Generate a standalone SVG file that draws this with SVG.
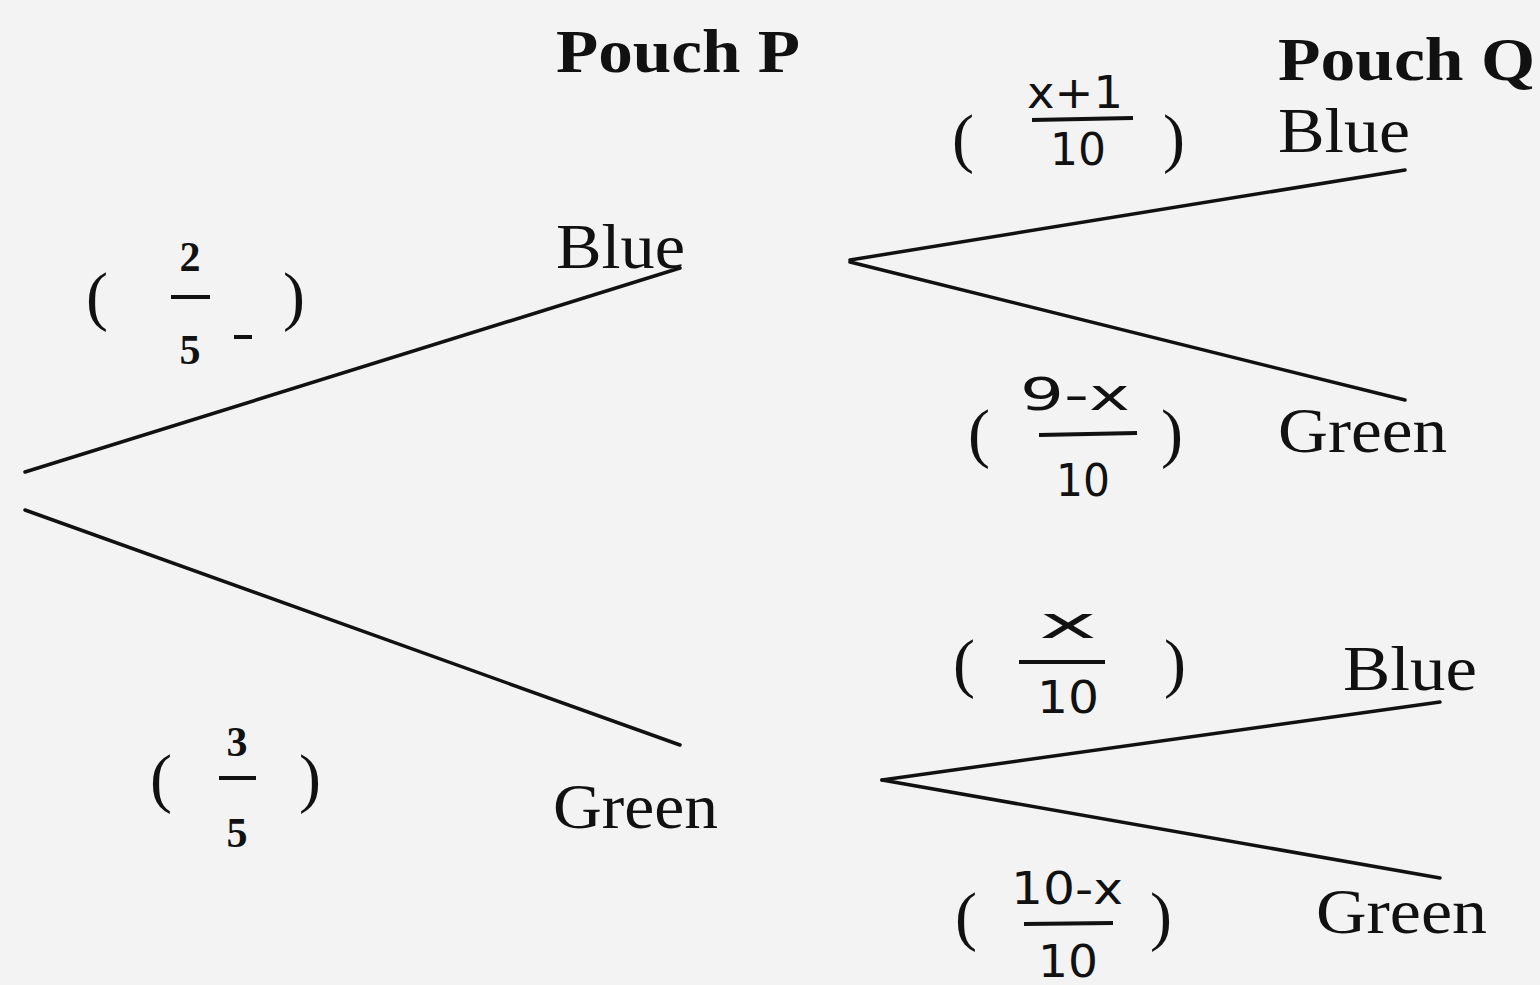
<svg xmlns="http://www.w3.org/2000/svg" width="1540" height="985" viewBox="0 0 1540 985">
<style>
.bg{fill:#f3f3f3}
.hd{font-family:"Liberation Serif",serif;font-weight:bold;font-size:62px;fill:#111}
.lb{font-family:"Liberation Serif",serif;font-size:64px;fill:#111}
.pr{font-family:"Liberation Serif",serif;font-size:66px;fill:#111}
.fs{font-family:"Liberation Serif",serif;font-weight:bold;font-size:42px;fill:#111;text-anchor:middle}
.hw{font-family:"DejaVu Sans",sans-serif;font-size:44px;fill:#111;text-anchor:middle}
.bar{stroke:#111;stroke-width:4}
.edge{stroke:#111;stroke-width:3.5;fill:none;stroke-linecap:round}
</style>
<rect class="bg" x="0" y="0" width="1540" height="985"/>
<g id="headers">
<text class="hd" x="556" y="72" textLength="244" lengthAdjust="spacingAndGlyphs">Pouch P</text>
<text class="hd" x="1278" y="80" textLength="257" lengthAdjust="spacingAndGlyphs">Pouch Q</text>
</g>
<g id="connectors">
<line class="edge" x1="25" y1="472" x2="680" y2="268"/>
<line class="edge" x1="25" y1="510" x2="680" y2="745"/>
<line class="edge" x1="850" y1="260" x2="1405" y2="170"/>
<line class="edge" x1="850" y1="262" x2="1405" y2="400"/>
<line class="edge" x1="882" y1="780" x2="1440" y2="702"/>
<line class="edge" x1="882" y1="780" x2="1440" y2="878"/>
</g>
<g id="node-p-blue"><text class="lb" x="556" y="268" textLength="129" lengthAdjust="spacingAndGlyphs">Blue</text></g>
<g id="node-p-green"><text class="lb" x="553" y="828" textLength="165" lengthAdjust="spacingAndGlyphs">Green</text></g>
<g id="node-q-blue-1"><text class="lb" x="1278" y="152" textLength="132" lengthAdjust="spacingAndGlyphs">Blue</text></g>
<g id="node-q-green-1"><text class="lb" x="1278" y="452" textLength="169" lengthAdjust="spacingAndGlyphs">Green</text></g>
<g id="node-q-blue-2"><text class="lb" x="1343" y="690" textLength="134" lengthAdjust="spacingAndGlyphs">Blue</text></g>
<g id="node-q-green-2"><text class="lb" x="1316" y="933" textLength="171" lengthAdjust="spacingAndGlyphs">Green</text></g>
<g id="prob-2-5">
<text class="pr" x="86" y="318">(</text>
<text class="fs" x="190" y="271">2</text>
<line class="bar" x1="171" y1="297" x2="210" y2="297"/>
<text class="fs" x="190" y="364">5</text>
<line class="bar" x1="234" y1="337" x2="252" y2="337"/>
<text class="pr" x="283" y="318">)</text>
</g>
<g id="prob-3-5">
<text class="pr" x="150" y="800">(</text>
<text class="fs" x="237" y="756">3</text>
<line class="bar" x1="219" y1="778" x2="256" y2="778"/>
<text class="fs" x="237" y="847">5</text>
<text class="pr" x="299" y="800">)</text>
</g>
<g id="prob-x1-10">
<text class="pr" x="952" y="160">(</text>
<text class="hw" x="1075" y="108" textLength="96" lengthAdjust="spacingAndGlyphs">x+1</text>
<line class="bar" x1="1032" y1="120" x2="1133" y2="118"/>
<text class="hw" x="1078" y="165" textLength="56" lengthAdjust="spacingAndGlyphs">10</text>
<text class="pr" x="1163" y="160">)</text>
</g>
<g id="prob-9x-10">
<text class="pr" x="968" y="455">(</text>
<text class="hw" x="1075" y="410" textLength="110" lengthAdjust="spacingAndGlyphs">9-x</text>
<line class="bar" x1="1039" y1="435" x2="1137" y2="433"/>
<text class="hw" x="1083" y="496" textLength="54" lengthAdjust="spacingAndGlyphs">10</text>
<text class="pr" x="1161" y="455">)</text>
</g>
<g id="prob-x-10">
<text class="pr" x="953" y="685">(</text>
<text class="hw" x="1068" y="638" textLength="58" lengthAdjust="spacingAndGlyphs">x</text>
<line class="bar" x1="1019" y1="662" x2="1105" y2="662"/>
<text class="hw" x="1068" y="713" textLength="62" lengthAdjust="spacingAndGlyphs">10</text>
<text class="pr" x="1164" y="685">)</text>
</g>
<g id="prob-10x-10">
<text class="pr" x="955" y="938">(</text>
<text class="hw" x="1067" y="904" textLength="112" lengthAdjust="spacingAndGlyphs">10-x</text>
<line class="bar" x1="1024" y1="924" x2="1113" y2="923"/>
<text class="hw" x="1068" y="977" textLength="60" lengthAdjust="spacingAndGlyphs">10</text>
<text class="pr" x="1150" y="938">)</text>
</g>
</svg>
